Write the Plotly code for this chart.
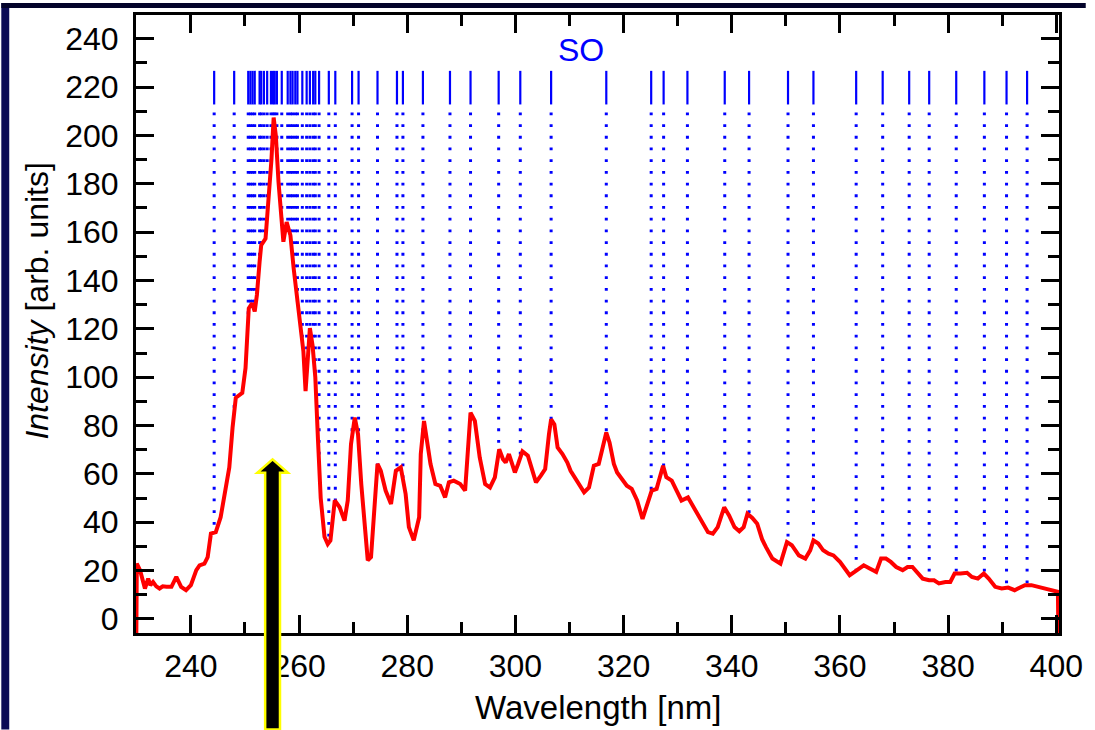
import plotly.graph_objects as go
import numpy as np

# ---------------- data ----------------
wavelength = [229.9, 230.0, 230.6, 231.0, 231.5, 232.1, 232.5, 233.0, 233.6, 234.2, 234.8, 235.5,
              236.4, 237.3, 238.2, 239.1, 240.0, 241.0, 241.6, 242.5, 243.1, 243.7, 244.6,
              245.5, 246.4, 247.1, 247.7, 248.3, 249.5, 250.1, 250.7, 251.3, 251.8, 252.2,
              252.7, 253.0, 253.8, 254.4, 254.9, 255.3, 255.7, 256.2, 256.7, 257.1, 257.7,
              258.4, 259.0, 259.6, 260.2, 260.8, 261.2, 261.7, 262.0, 262.5, 263.0, 263.5,
              264.0, 264.7, 265.3, 265.8, 266.6, 267.5, 268.4, 269.0, 269.6, 270.3, 270.9,
              271.5, 272.1, 272.7, 273.3, 273.9, 274.5, 275.1, 276.0, 277.0, 277.9, 278.8,
              279.7, 280.3, 281.2, 282.2, 282.5, 283.1, 283.7, 284.3, 285.2, 286.1, 287.0,
              287.7, 288.6, 289.8, 290.7, 291.3, 291.7, 292.5, 293.4, 294.4, 295.3, 296.2,
              297.0, 297.7, 298.2, 298.8, 299.9, 300.5, 301.3, 302.3, 303.2, 303.8, 304.7,
              305.5, 306.2, 306.6, 307.2, 307.8, 308.7, 309.6, 310.2, 311.2, 312.1, 312.7,
              313.6, 314.5, 315.4, 316.2, 316.8, 317.4, 318.2, 318.8, 319.7, 320.6, 321.5,
              322.5, 323.5, 324.3, 325.2, 326.1, 326.7, 327.3, 327.9, 328.9, 329.8, 330.7,
              331.9, 332.8, 333.7, 334.7, 335.6, 336.5, 337.4, 338.0, 338.6, 339.5, 340.5,
              341.4, 342.2, 342.9, 343.8, 344.7, 345.6, 346.3, 347.5, 349.0, 349.7, 350.2,
              351.1, 352.4, 353.6, 354.5, 355.1, 356.0, 356.9, 357.9, 358.8, 360.0, 360.9,
              361.8, 362.7, 363.7, 364.4, 365.5, 366.7, 367.6, 368.5, 369.4, 370.4, 371.6,
              372.5, 373.4, 374.3, 375.3, 376.5, 377.4, 378.3, 379.5, 380.4, 381.2, 382.3,
              383.5, 384.4, 385.5, 386.6, 387.5, 388.7, 389.9, 391.1, 392.3, 393.3, 394.2,
              395.4, 396.6, 397.8, 399.1, 400.3, 400.4]
intensity = [-10, 22.9, 20.2, 17.0, 12.6, 16.7, 14.0, 15.3, 13.5, 12.6, 13.5, 13.3,
             13.3, 17.4, 13.3, 11.9, 14.0, 20.2, 22.2, 22.9, 25.6, 35.3, 35.9,
             42.1, 53.1, 62.7, 79.1, 91.5, 93.5, 103.8, 128.5, 130.6, 127.2, 134.0,
             147.7, 154.6, 157.3, 173.8, 190.2, 207.4, 199.9, 180.7, 164.2, 156.0, 164.2,
             158.7, 145.0, 132.6, 123.0, 110.7, 94.2, 110.0, 120.3, 113.0, 100.0, 74.0,
             50.0, 34.0, 31.0, 32.5, 49.0, 46.2, 40.7, 49.0, 72.3, 83.3, 76.4,
             55.8, 38.0, 24.3, 25.6, 44.9, 64.1, 61.3, 53.1, 47.6, 61.3, 62.7,
             51.7, 38.0, 32.5, 42.1, 68.2, 81.9, 72.3, 64.1, 55.8, 55.1, 50.3,
             56.5, 57.2, 55.8, 53.1, 70.0, 85.3, 81.9, 66.8, 55.8, 54.4, 58.6,
             70.2, 66.1, 64.7, 68.2, 60.6, 64.1, 69.3, 67.5, 61.3, 56.5, 59.3,
             62.0, 76.4, 82.6, 80.5, 70.9, 68.2, 64.7, 61.3, 57.9, 54.4, 52.4,
             54.4, 63.4, 64.1, 71.6, 77.1, 73.0, 64.1, 60.6, 57.9, 55.1, 53.8,
             49.0, 41.4, 47.6, 53.1, 53.8, 58.6, 63.4, 58.6, 57.2, 53.1, 49.0,
             50.3, 46.9, 43.5, 39.4, 35.9, 35.3, 38.0, 42.1, 46.2, 42.8, 38.0,
             36.3, 38.0, 43.5, 41.8, 39.4, 33.0, 29.8, 25.0, 22.9, 28.4, 31.8,
             30.5, 26.3, 25.0, 28.4, 32.5, 31.2, 28.4, 27.0, 26.3, 23.6, 20.9,
             18.1, 19.5, 20.9, 22.2, 20.9, 19.5, 25.0, 25.0, 23.6, 21.5, 20.2,
             21.5, 21.5, 19.5, 16.7, 16.0, 16.0, 14.7, 15.3, 15.3, 18.8, 18.8,
             19.1, 17.4, 16.7, 18.8, 16.7, 13.3, 12.6, 13.0, 11.9, 13.0, 14.0,
             14.0, 13.3, 12.6, 11.9, 11.2, -10]

# SO band-head positions (nm)
so_lines = [244.3, 248.0, 250.6, 251.0, 251.4, 251.8, 252.7, 253.0, 253.5, 254.1, 254.8,
            255.2, 255.5, 255.9, 256.8, 257.9, 258.4, 258.8, 259.3, 259.7, 260.6, 261.4,
            262.0, 262.6, 263.0, 263.7, 265.5, 266.7, 269.8, 271.0, 274.5, 278.1, 279.2,
            282.9, 287.9, 291.7, 296.9, 300.9, 306.6, 316.8, 325.1, 327.4, 331.8, 338.7,
            343.2, 350.4, 355.1, 363.0, 367.9, 372.8, 376.5, 381.5, 386.7, 390.8, 394.6]
so_solid_bottom = 212.8
so_solid_top = 226.7
so_dot_top = 209.5
so_label = "SO"
so_label_pos = (312.1, 235.4)

x_ticks = [240, 260, 280, 300, 320, 340, 360, 380, 400]
y_ticks = [0, 20, 40, 60, 80, 100, 120, 140, 160, 180, 200, 220, 240]
x_title = "Wavelength [nm]"
y_title = "<i>Intensity</i> [arb. units]"

arrow_x = 255.1      # nm
arrow_tip = 66.0     # intensity

# ---------------- layout geometry ----------------
W, H = 1095, 730
L, R, T, B = 136, 1068, 12, 633
XR = [229.85, 400.5]
YR = [-5.8, 249.8]

def px_to_paper_x(px):
    return (px - L) / (R - L)

def px_to_paper_y(py):
    return (B - py) / (B - T)

def data_to_paper_x(v):
    return (v - XR[0]) / (XR[1] - XR[0])

def data_to_paper_y(v):
    return (v - YR[0]) / (YR[1] - YR[0])

fig = go.Figure()

# dotted lines down to spectrum
spec_at = np.interp(so_lines, wavelength[1:-1], intensity[1:-1])
dx, dy = [], []
for xv, sv in zip(so_lines, spec_at):
    dx += [xv, xv, None]
    dy += [so_dot_top, min(so_dot_top, sv), None]
fig.add_trace(go.Scatter(x=dx, y=dy, mode="lines",
                         line=dict(color="#0000ff", width=3, dash="2.8px,8.9px"),
                         hoverinfo="skip", showlegend=False))
# solid short markers
sx, sy = [], []
for xv in so_lines:
    sx += [xv, xv, None]
    sy += [so_solid_bottom, so_solid_top, None]
fig.add_trace(go.Scatter(x=sx, y=sy, mode="lines",
                         line=dict(color="#0000ff", width=2.2),
                         hoverinfo="skip", showlegend=False))
# spectrum
fig.add_trace(go.Scatter(x=wavelength, y=intensity, mode="lines",
                         line=dict(color="#ff0000", width=4),
                         hoverinfo="skip", showlegend=False))

font_family = "Liberation Sans, Arial, sans-serif"

axis_common = dict(
    showgrid=False, zeroline=False, showline=True, linecolor="black", linewidth=3,
    mirror="allticks", ticks="inside", ticklen=18, tickwidth=3, tickcolor="black",
    tickfont=dict(family=font_family, size=32, color="black"),
)
fig.update_xaxes(range=XR, tickvals=x_ticks, ticktext=[str(v) for v in x_ticks],
                 minor=dict(ticks="inside", ticklen=11, tickwidth=3, tickcolor="black",
                            tickvals=[v + 10 for v in [230] + x_ticks[:-1]]),
                 ticklabelstandoff=3, **axis_common)
fig.update_yaxes(range=YR, tickvals=y_ticks, ticktext=[str(v) for v in y_ticks],
                 minor=dict(ticks="inside", ticklen=11, tickwidth=3, tickcolor="black",
                            tickvals=[v + 10 for v in y_ticks[:-1]] + [250]),
                 ticklabelstandoff=8, **axis_common)

# background frame (navy strips at left and top), kept inside the figure bounds
shapes = [
    dict(type="rect", xref="paper", yref="paper", layer="below",
         x0=px_to_paper_x(0), x1=px_to_paper_x(8), y0=px_to_paper_y(H), y1=px_to_paper_y(0),
         fillcolor="#0b0b55", line=dict(width=0)),
    dict(type="rect", xref="paper", yref="paper", layer="below",
         x0=px_to_paper_x(0), x1=px_to_paper_x(W), y0=px_to_paper_y(5), y1=px_to_paper_y(0),
         fillcolor="#03032a", line=dict(width=0)),
]

# arrow (black with yellow outline), positioned from data coords
ax_c = data_to_paper_x(arrow_x)
tip = data_to_paper_y(arrow_tip)
shaft_hw = 7.5 / (R - L)
head_hw = 15.5 / (R - L)
head_h = 13.5 / (B - T)
bottom = px_to_paper_y(H)
path = (f"M {ax_c - shaft_hw},{bottom} L {ax_c - shaft_hw},{tip - head_h} "
        f"L {ax_c - head_hw},{tip - head_h} L {ax_c},{tip} L {ax_c + head_hw},{tip - head_h} "
        f"L {ax_c + shaft_hw},{tip - head_h} L {ax_c + shaft_hw},{bottom} Z")
shapes.append(dict(type="path", xref="paper", yref="paper", path=path, layer="above",
                   fillcolor="black", line=dict(color="#ffff00", width=2.5)))

annotations = [
    dict(text=so_label, x=so_label_pos[0], y=so_label_pos[1], xref="x", yref="y",
         showarrow=False, font=dict(family=font_family, size=32, color="#0000ff")),
    dict(text=x_title, x=0.5, y=px_to_paper_y(708), xref="paper", yref="paper",
         showarrow=False, xanchor="center", yanchor="middle",
         font=dict(family=font_family, size=33, color="black")),
    dict(text=y_title, x=px_to_paper_x(36), y=px_to_paper_y(299), xref="paper", yref="paper",
         showarrow=False, xanchor="center", yanchor="middle", textangle=-90,
         font=dict(family=font_family, size=32, color="black")),
]

fig.update_layout(
    width=W, height=H, autosize=False,
    margin=dict(l=L, r=W - R, t=T, b=H - B, pad=0),
    paper_bgcolor="white", plot_bgcolor="white",
    shapes=shapes, annotations=annotations,
    showlegend=False,
)

post = ("document.documentElement.style.margin='0';document.documentElement.style.padding='0';"
        "document.body.style.margin='0';document.body.style.padding='0';"
        "document.documentElement.style.overflow='hidden';document.body.style.overflow='hidden';")
fig.write_html("out.html",
               config={"responsive": False, "displayModeBar": False, "staticPlot": True},
               post_script=post)
